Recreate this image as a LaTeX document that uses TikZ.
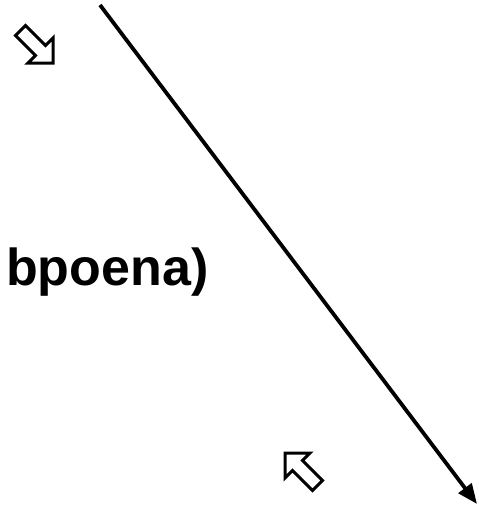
\documentclass[tikz,border=0pt]{standalone}
\usepackage{fontspec}
\setmainfont{Liberation Sans}
\usetikzlibrary{arrows.meta}

\tikzset{
	hollowarrow/.pic={
		\draw[line width=3pt,line join=miter,fill=white]
			(0,0) -- (0,-25) -- (-7.5,-17.5) -- (-27.5,-37.5) -- (-37.5,-27.5) -- (-17.5,-7.5) -- (-25,0) -- cycle;
	}
}

\begin{document}
\begin{tikzpicture}[x=1pt,y=-1pt]
				\useasboundingbox (0,0) rectangle (479,509);
				\pic (downarrow) at (53,63) {hollowarrow};
				\pic[scale=-1] (uparrow) at (285,453) {hollowarrow};
				\begin{scope}[every node/.style={font=\fontsize{52}{60}\selectfont\bfseries,inner sep=0pt}]
				\node[anchor=base west] (label) at (6,285) {bpoena)};
				\end{scope}
				\coordinate (linetop) at (100,5);
				\coordinate (linebottom) at (477,504);
				\begin{scope}[>={Triangle[length=20pt,width=16pt]},
				every edge/.style={draw=black,line width=3.8pt}]
				\path [->] (linetop) edge (linebottom);
				\end{scope}
				\end{tikzpicture}
\end{document}
